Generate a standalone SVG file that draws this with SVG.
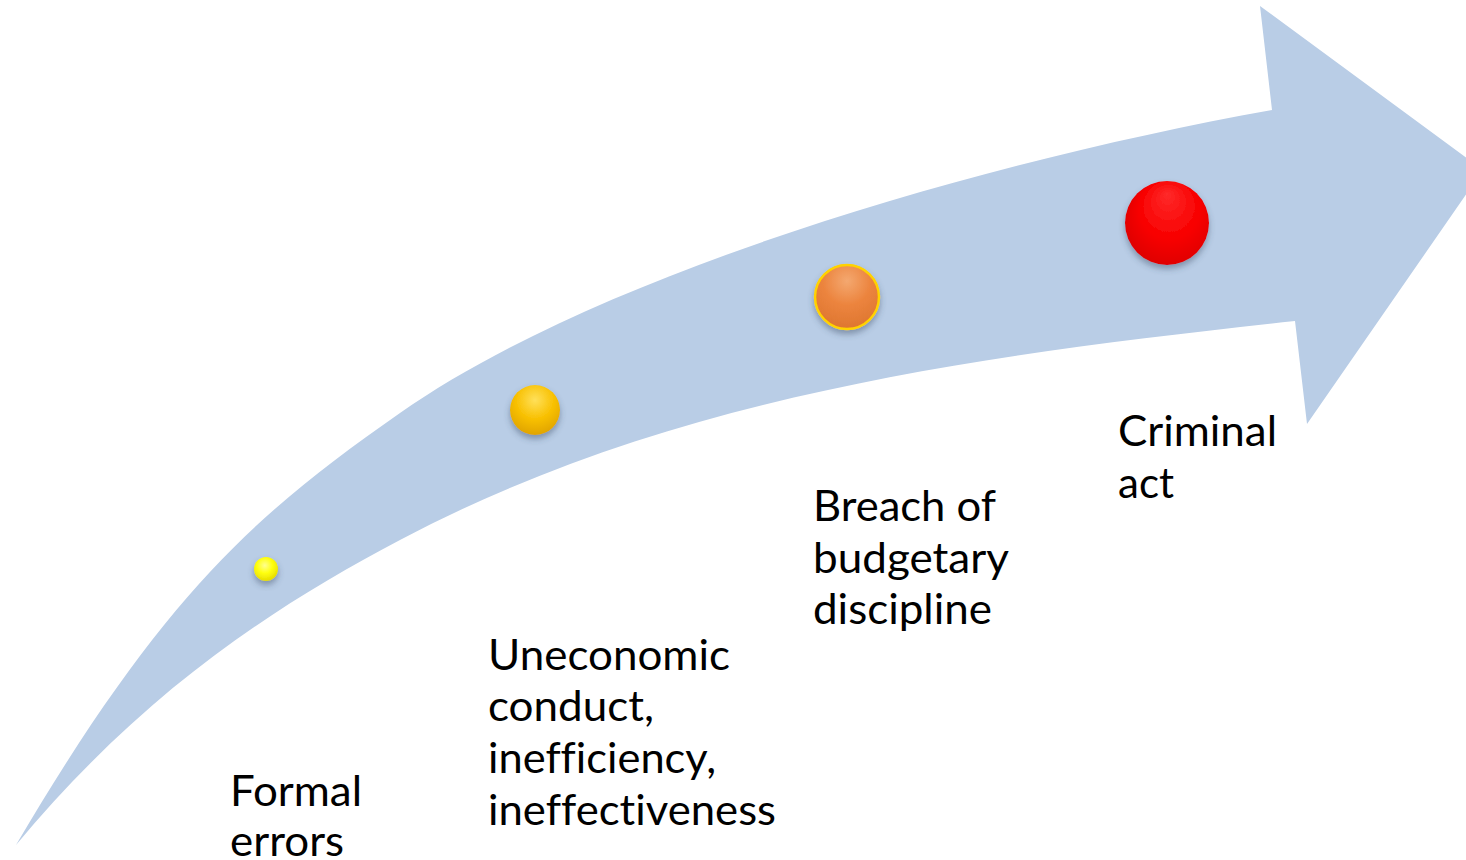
<svg xmlns="http://www.w3.org/2000/svg" width="1466" height="860" viewBox="0 0 1466 860">
<defs>
<style>
.lbl{font-family:Lato,"Open Sans","Liberation Sans",sans-serif;font-size:43px;fill:#000;font-variant-ligatures:none;font-feature-settings:"liga" 0,"clig" 0}
</style>
<filter id="sh" x="-30%" y="-30%" width="160%" height="170%">
<feDropShadow dx="0" dy="4" stdDeviation="3" flood-color="#3a4a60" flood-opacity="0.45"/>
</filter>
<radialGradient id="gY" cx="0.45" cy="0.35" r="0.65">
<stop offset="0" stop-color="#FFFF90"/>
<stop offset="0.5" stop-color="#FFFF10"/>
<stop offset="1" stop-color="#E6DC00"/>
</radialGradient>
<radialGradient id="gG" cx="0.5" cy="0.3" r="0.7">
<stop offset="0" stop-color="#FFE05A"/>
<stop offset="0.55" stop-color="#F8C000"/>
<stop offset="1" stop-color="#E0A400"/>
</radialGradient>
<radialGradient id="gO" cx="0.5" cy="0.25" r="0.75">
<stop offset="0" stop-color="#F4A870"/>
<stop offset="0.5" stop-color="#EC843E"/>
<stop offset="1" stop-color="#DE7630"/>
</radialGradient>
<radialGradient id="gR" cx="0.55" cy="0.45" r="0.6" fx="0.5" fy="0.15">
<stop offset="0" stop-color="#FF2A2A"/>
<stop offset="0.6" stop-color="#F80000"/>
<stop offset="1" stop-color="#DC0000"/>
</radialGradient>
</defs>
<rect width="1466" height="860" fill="#fff"/>
<g id="arrow">
<path fill="#B9CDE6" d="M16,845 C166,590 260,511 400,413 C600,273 982,162 1272,110 L1260,6 L1483,170 L1307,424 L1295,321 C997,353.8 680,391.6 400,540 C272,607.8 144,691.4 16,845 Z"/>
</g>
<g id="connectors"></g>
<g id="node-formal">
<circle cx="266" cy="569" r="12" fill="url(#gY)" filter="url(#sh)"/>
<text class="lbl" x="230" y="806" textLength="132" lengthAdjust="spacingAndGlyphs">Formal</text>
<text class="lbl" x="230" y="856" textLength="114" lengthAdjust="spacingAndGlyphs">errors</text>
</g>
<g id="node-uneconomic">
<circle cx="535" cy="410" r="25" fill="url(#gG)" filter="url(#sh)"/>
<text class="lbl" x="488" y="670" textLength="242" lengthAdjust="spacingAndGlyphs">Uneconomic</text>
<text class="lbl" x="488" y="721" textLength="166" lengthAdjust="spacingAndGlyphs">conduct,</text>
<text class="lbl" x="488" y="773" textLength="228" lengthAdjust="spacingAndGlyphs">inefficiency,</text>
<text class="lbl" x="488" y="825" textLength="288" lengthAdjust="spacingAndGlyphs">ineffectiveness</text>
</g>
<g id="node-breach">
<circle cx="847" cy="297" r="32" fill="url(#gO)" stroke="#FFD200" stroke-width="2.5" filter="url(#sh)"/>
<text class="lbl" x="813" y="521" textLength="183" lengthAdjust="spacingAndGlyphs">Breach of</text>
<text class="lbl" x="813" y="573" textLength="196" lengthAdjust="spacingAndGlyphs">budgetary</text>
<text class="lbl" x="813" y="624" textLength="179" lengthAdjust="spacingAndGlyphs">discipline</text>
</g>
<g id="node-criminal">
<circle cx="1167" cy="223" r="42" fill="url(#gR)" filter="url(#sh)"/>
<text class="lbl" x="1118" y="446" textLength="159" lengthAdjust="spacingAndGlyphs">Criminal</text>
<text class="lbl" x="1118" y="498" textLength="56" lengthAdjust="spacingAndGlyphs">act</text>
</g>
</svg>
